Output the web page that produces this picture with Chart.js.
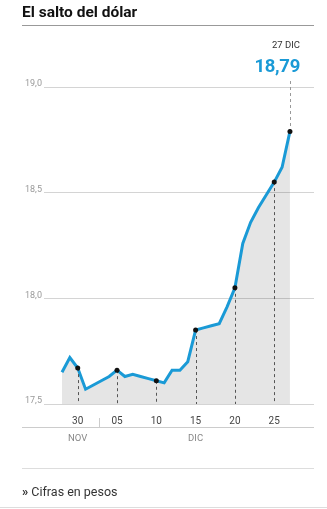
<!DOCTYPE html>
<html>
<head>
<meta charset="utf-8">
<script src="https://cdn.jsdelivr.net/npm/chart.js@4.4.1/dist/chart.umd.min.js"></script>
<style>
  body { margin: 0; width: 327px; height: 509px; background: #fff; font-family: Roboto, "Noto Sans", sans-serif; overflow: hidden; }
  #wrap { position: relative; width: 327px; height: 509px; }
  #grafico { position: absolute; left: 0; top: 0; }
  .titulo { position: absolute; left: 22px; top: 3px; font-size: 15.5px; font-weight: bold; color: #111; }
  .regla { position: absolute; left: 22px; width: 292px; height: 0; }
  .fecha { position: absolute; right: 27px; top: 39px; font-size: 9.5px; color: #333; }
  .valor { position: absolute; right: 27px; top: 55px; font-size: 18.5px; font-weight: bold; color: #1a9ad6; letter-spacing: -0.3px; }
  .nota { position: absolute; left: 22px; top: 484px; font-size: 12.5px; color: #333; }
</style>
</head>
<body>
<div id="wrap">
  <canvas id="grafico" width="327" height="509"></canvas>
  <div class="titulo">El salto del dólar</div>
  <div class="regla" style="top:25px;border-top:1px solid #999"></div>
  <div class="fecha" id="fecha">27 DIC</div>
  <div class="valor" id="valor">18,79</div>
  <div class="regla" style="top:468px;border-top:1px solid #ddd"></div>
  <div class="nota"><b>»</b> Cifras en pesos</div>
  <div style="position:absolute;left:0;top:507px;width:327px;border-top:1px solid #ddd"></div>
</div>
<script>
// dias del 28 nov al 27 dic
const dias = ["28", "29", "30", "01", "02", "03", "04", "05", "06", "07", "08", "09", "10", "11", "12",
  "13", "14", "15", "16", "17", "18", "19", "20", "21", "22", "23", "24", "25", "26", "27"];
const valores = [17.65, 17.72, 17.67, 17.57, 17.59, 17.61, 17.63, 17.66, 17.63, 17.64, 17.63, 17.62, 17.61, 17.60, 17.66,
  17.66, 17.70, 17.85, 17.86, 17.87, 17.88, 17.96, 18.05, 18.26, 18.36, 18.43, 18.49, 18.55, 18.62, 18.79];
const ticksX = ["30", "05", "10", "15", "20", "25"];
const marcas = ["30", "05", "10", "15", "20", "25", "27"];
const ticksY = [17.5, 18.0, 18.5, 19.0];
const meses = [{ nombre: "NOV", dia: "30" }, { nombre: "DIC", dia: "15" }];

const azul = "#1a9ad6";
const puntos = dias.map((d, i) => ({ x: i, y: valores[i] }));
const idxMarcas = marcas.map(m => dias.indexOf(m));

$ = (s) => document.querySelector(s);
$("#valor").textContent = valores[valores.length - 1].toFixed(2).replace(".", ",");

const extras = {
  id: "extras",
  afterDatasetsDraw(chart) {
    const ctx = chart.ctx;
    const xs = chart.scales.x, ys = chart.scales.y;
    const area = chart.chartArea;
    ctx.save();
    ctx.strokeStyle = "#555";
    ctx.lineWidth = 1;
    ctx.setLineDash([3, 3]);
    idxMarcas.forEach((i, k) => {
      const px = Math.round(xs.getPixelForValue(i)) + 0.5;
      const py = ys.getPixelForValue(valores[i]);
      ctx.beginPath();
      if (k == idxMarcas.length - 1) {
        ctx.strokeStyle = "#999";
        ctx.moveTo(px, 81);
        ctx.lineTo(px, py);
      } else {
        ctx.moveTo(px, py);
        ctx.lineTo(px, area.bottom);
      }
      ctx.stroke();
    });
    ctx.setLineDash([]);
    // puntos negros
    ctx.fillStyle = "#111";
    idxMarcas.forEach(i => {
      ctx.beginPath();
      ctx.arc(xs.getPixelForValue(i), ys.getPixelForValue(valores[i]), 2.5, 0, Math.PI * 2);
      ctx.fill();
    });
    // linea de meses
    ctx.strokeStyle = "#ccc";
    ctx.beginPath();
    ctx.moveTo(22, 427.5);
    ctx.lineTo(314, 427.5);
    ctx.stroke();
    const sep = xs.getPixelForValue(dias.indexOf("02") + 0.75);
    ctx.beginPath();
    ctx.moveTo(Math.round(sep) + 0.5, 418);
    ctx.lineTo(Math.round(sep) + 0.5, 428);
    ctx.stroke();
    ctx.fillStyle = "#888";
    ctx.font = "9.5px Roboto";
    ctx.textAlign = "center";
    ctx.textBaseline = "middle";
    meses.forEach(m => {
      ctx.fillText(m.nombre, xs.getPixelForValue(dias.indexOf(m.dia)), 439);
    });
    ctx.restore();
  }
};

new Chart(document.getElementById("grafico"), {
  type: "line",
  data: {
    datasets: [{
      data: puntos,
      borderColor: azul,
      borderWidth: 3,
      backgroundColor: "rgba(0,0,0,0.1)",
      fill: "start",
      pointRadius: 0,
      tension: 0,
    }],
  },
  options: {
    responsive: false,
    animation: false,
    events: [],
    layout: { padding: { left: 25, right: 13, top: 87, bottom: 81 } },
    plugins: { legend: { display: false }, tooltip: { enabled: false } },
    scales: {
      x: {
        type: "linear",
        min: -2.29,
        max: 32.06,
        afterBuildTicks: (scale) => {
          scale.ticks = ticksX.map(t => ({ value: dias.indexOf(t) }));
        },
        afterFit: (scale) => { scale.height = 24; },
        grid: { display: false },
        border: { display: false },
        ticks: {
          autoSkip: false,
          maxRotation: 0,
          padding: 3,
          color: "#444",
          font: { family: "Roboto", size: 10 },
          callback: (v) => dias[v],
        },
      },
      y: {
        min: 17.5,
        max: 19.0,
        afterBuildTicks: (scale) => {
          scale.ticks = ticksY.map(v => ({ value: v }));
        },
        afterFit: (scale) => { scale.width = 19; },
        border: { display: false },
        grid: { color: "#d4d4d4", drawTicks: false },
        ticks: {
          crossAlign: "far",
          padding: 0,
          labelOffset: -3,
          color: "#999",
          font: { family: "Roboto", size: 9 },
          callback: (v) => v.toFixed(1).replace(".", ","),
        },
      },
    },
  },
  plugins: [extras],
});
</script>
</body>
</html>
